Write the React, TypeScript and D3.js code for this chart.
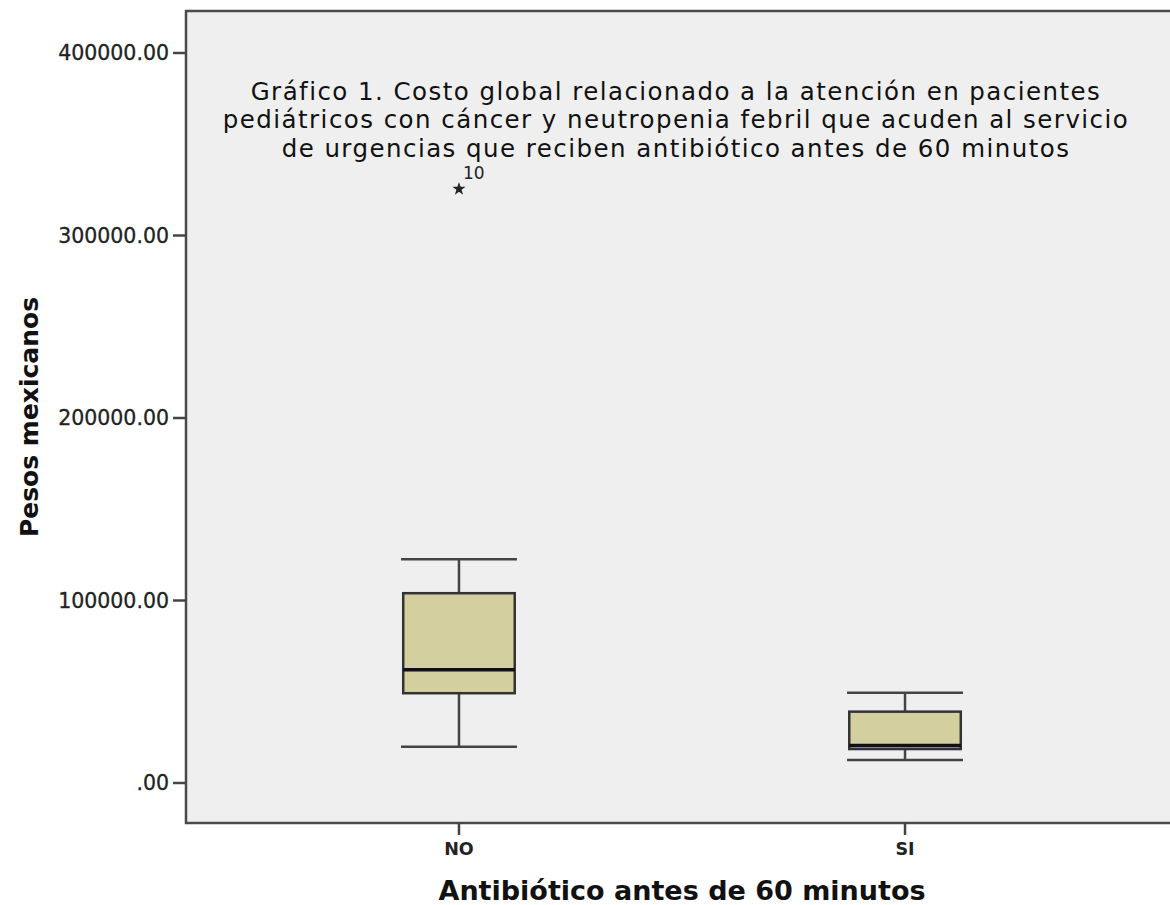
import * as d3 from "d3";

const categories = ["NO", "SI"];
const whiskerHigh = [122600, 49500];
const q3 = [104000, 39100];
const medians = [62000, 20500];
const q1 = [49200, 18600];
const whiskerLow = [19900, 12600];

const outlierCategory = ["NO"];
const outlierValue = [325500];
const outlierLabel = ["10"];

const yTicks = [0, 100000, 200000, 300000, 400000];

const titleLines = [
  "Gráfico 1. Costo global relacionado a la atención en pacientes",
  "pediátricos con cáncer y neutropenia febril que acuden al servicio",
  "de urgencias que reciben antibiótico antes de 60 minutos",
];

const width = 1170;
const height = 905;
const frame = { left: 186, top: 11, right: 1178, bottom: 823 };

const font = "'DejaVu Sans', Verdana, sans-serif";
const ink = "#222";
const line = "#444";

export default function App() {
  const y = d3.scaleLinear().domain([0, 400000]).range([783, 53]);
  const x = d3
    .scalePoint<string>()
    .domain(categories)
    .range([frame.left, frame.right])
    .padding(0.612);
  const step = x.step();
  const boxW = step * 0.25;
  const capW = step * 0.13;
  const fmt = (v: number) => (v === 0 ? ".00" : v.toFixed(2));
  const star = d3.symbol(d3.symbolStar, 55)() as string;
  const midX = (frame.left + frame.right) / 2;

  return (
    <svg
      width={width}
      height={height}
      style={{ position: "absolute", left: 0, top: 0, display: "block", background: "#fff" }}
    >
      <rect
        x={frame.left}
        y={frame.top}
        width={frame.right - frame.left}
        height={frame.bottom - frame.top}
        fill="#efefef"
        stroke="#4a4a4a"
        strokeWidth={2.5}
      />

      {/* y axis */}
      {yTicks.map((t) => (
        <g key={t}>
          <line x1={frame.left - 13} x2={frame.left} y1={y(t)} y2={y(t)} stroke={line} strokeWidth={2.5} />
          <text
            x={frame.left - 17}
            y={y(t)}
            dy="0.36em"
            textAnchor="end"
            fontFamily={font}
            fontSize={20.5}
            fill={ink}
            stroke={ink}
            strokeWidth={0.3}
          >
            {fmt(t)}
          </text>
        </g>
      ))}

      {/* x axis */}
      {categories.map((c) => (
        <g key={c}>
          <line x1={x(c)} x2={x(c)} y1={frame.bottom} y2={frame.bottom + 12} stroke={line} strokeWidth={2.5} />
          <text
            x={x(c)}
            y={frame.bottom + 32}
            textAnchor="middle"
            fontFamily={font}
            fontSize={17.5}
            fontWeight="bold"
            fill={ink}
          >
            {c}
          </text>
        </g>
      ))}

      <text
        x={midX}
        y={900}
        textAnchor="middle"
        fontFamily={font}
        fontSize={27}
        fontWeight="bold"
        fill="#111"
      >
        Antibiótico antes de 60 minutos
      </text>
      <text
        transform={`translate(38,${(frame.top + frame.bottom) / 2}) rotate(-90)`}
        textAnchor="middle"
        fontFamily={font}
        fontSize={25}
        fontWeight="bold"
        fill="#111"
      >
        Pesos mexicanos
      </text>

      {/* title inside plot */}
      {titleLines.map((t, i) => (
        <text
          key={i}
          x={676}
          y={99.5 + i * 28.5}
          textAnchor="middle"
          fontFamily={font}
          fontSize={24.5}
          letterSpacing={1.45}
          fill="#111"
        >
          {t}
        </text>
      ))}

      {/* boxes */}
      {categories.map((c, i) => {
        const cx = x(c) as number;
        return (
          <g key={c}>
            <line x1={cx} x2={cx} y1={y(whiskerHigh[i])} y2={y(q3[i])} stroke={line} strokeWidth={2.5} />
            <line x1={cx} x2={cx} y1={y(q1[i])} y2={y(whiskerLow[i])} stroke={line} strokeWidth={2.5} />
            <line x1={cx - capW} x2={cx + capW} y1={y(whiskerHigh[i])} y2={y(whiskerHigh[i])} stroke={line} strokeWidth={2.5} />
            <line x1={cx - capW} x2={cx + capW} y1={y(whiskerLow[i])} y2={y(whiskerLow[i])} stroke={line} strokeWidth={2.5} />
            <rect
              x={cx - boxW / 2}
              y={y(q3[i])}
              width={boxW}
              height={y(q1[i]) - y(q3[i])}
              fill="#d3cf9e"
              stroke="#333"
              strokeWidth={2.5}
            />
            <line
              x1={cx - boxW / 2}
              x2={cx + boxW / 2}
              y1={y(medians[i])}
              y2={y(medians[i])}
              stroke="#111"
              strokeWidth={3.5}
            />
          </g>
        );
      })}

      {/* outliers */}
      {outlierValue.map((v, i) => {
        const cx = x(outlierCategory[i]) as number;
        return (
          <g key={i}>
            <path d={star} transform={`translate(${cx},${y(v)})`} fill="#222" />
            <text x={cx + 4} y={y(v) - 10} fontFamily={font} fontSize={17} fill={ink}>
              {outlierLabel[i]}
            </text>
          </g>
        );
      })}
    </svg>
  );
}
